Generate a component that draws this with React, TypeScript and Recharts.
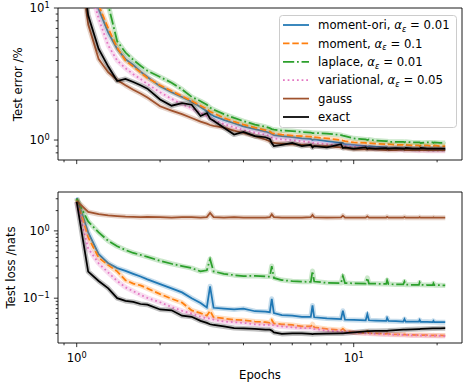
import { LineChart, Line, XAxis, YAxis, Legend, ReferenceArea } from "recharts";

const FONT = "DejaVu Sans";

// epochs shared by both panels (log x axis)
const epochs = [
  1, 1.1, 1.2, 1.3, 1.4, 1.5, 1.6, 1.7, 1.8, 2.0, 2.2, 2.4, 2.6, 2.8, 2.95, 3.03, 3.12, 3.4, 3.7, 4.0,
  4.4, 4.8, 4.98, 5.06, 5.15, 5.5, 6.0, 6.5, 7.0, 7.1, 7.2, 8.0, 9.0, 9.14, 9.3, 10, 11.05, 11.2, 11.35,
  12, 13.1, 13.2, 13.35, 14.2, 15.1, 15.25, 15.4, 16.3, 17.2, 17.3, 17.45, 18.4, 19.3, 19.4, 19.55, 20.5, 21.4,
];

// test error (%)
const errOri = [60, 20, 9.8, 6.5, 4.9, 4.1, 3.7, 3.3, 3.0, 2.55, 2.3, 2.12, 1.95, 1.78, 1.65, 1.58, 1.52, 1.42, 1.34, 1.27, 1.21, 1.16, 1.13, 1.11, 1.09, 1.07, 1.05, 1.03, 1.02, 1.0, 1.01, 0.98, 0.95, 0.95, 0.93, 0.92, 0.9, 0.89, 0.9, 0.89, 0.88, 0.88, 0.87, 0.87, 0.87, 0.86, 0.87, 0.86, 0.86, 0.86, 0.87, 0.86, 0.86, 0.85, 0.86, 0.86, 0.85];
const errMoment = [60, 22, 10.5, 7.0, 5.0, 4.0, 3.6, 3.25, 2.95, 2.6, 2.35, 2.15, 1.98, 1.82, 1.72, 1.64, 1.6, 1.47, 1.38, 1.31, 1.24, 1.19, 1.16, 1.13, 1.12, 1.1, 1.08, 1.07, 1.06, 1.04, 1.05, 1.03, 1.0, 0.99, 0.98, 0.96, 0.95, 0.94, 0.95, 0.94, 0.93, 0.92, 0.93, 0.92, 0.92, 0.91, 0.92, 0.91, 0.91, 0.9, 0.91, 0.91, 0.9, 0.9, 0.91, 0.9, 0.9];
const errLaplace = [80, 30, 15, 10.5, 5.6, 4.6, 4.05, 3.65, 3.35, 3.0, 2.72, 2.42, 2.12, 1.97, 1.85, 1.76, 1.7, 1.57, 1.47, 1.39, 1.31, 1.26, 1.23, 1.21, 1.2, 1.18, 1.17, 1.15, 1.14, 1.13, 1.13, 1.12, 1.09, 1.08, 1.07, 1.03, 1.01, 1.0, 1.01, 0.99, 0.98, 0.98, 0.97, 0.97, 0.97, 0.96, 0.97, 0.96, 0.96, 0.96, 0.95, 0.96, 0.96, 0.95, 0.96, 0.95, 0.95];
const errVariational = [50, 16, 8.3, 5.2, 4.0, 3.5, 3.15, 2.9, 2.65, 2.3, 2.05, 1.87, 1.74, 1.6, 1.52, 1.46, 1.41, 1.32, 1.25, 1.19, 1.14, 1.1, 1.07, 1.05, 1.03, 1.01, 1.0, 0.98, 0.96, 0.95, 0.95, 0.93, 0.91, 0.9, 0.9, 0.89, 0.88, 0.87, 0.87, 0.86, 0.86, 0.85, 0.85, 0.85, 0.84, 0.84, 0.84, 0.84, 0.83, 0.83, 0.84, 0.83, 0.83, 0.83, 0.83, 0.83, 0.83];
const errGauss = [35, 7.5, 4.1, 3.25, 2.85, 2.6, 2.4, 2.25, 2.1, 1.8, 1.67, 1.57, 1.47, 1.38, 1.33, 1.3, 1.28, 1.24, 1.18, 1.13, 1.07, 1.01, 0.98, 0.96, 0.95, 0.94, 0.93, 0.92, 0.91, 0.9, 0.9, 0.9, 0.88, 0.88, 0.87, 0.85, 0.85, 0.85, 0.85, 0.85, 0.84, 0.85, 0.84, 0.84, 0.85, 0.84, 0.84, 0.84, 0.84, 0.84, 0.84, 0.84, 0.84, 0.84, 0.84, 0.84, 0.84];
const errExact = [40, 8.8, 4.9, 3.6, 2.8, 2.9, 2.75, 2.6, 2.45, 2.03, 1.82, 1.9, 1.85, 1.52, 1.6, 1.45, 1.4, 1.24, 1.1, 1.15, 1.07, 1.05, 1.02, 0.95, 0.9, 0.92, 0.95, 0.9, 0.92, 0.88, 0.9, 0.88, 0.93, 0.87, 0.88, 0.86, 0.88, 0.86, 0.87, 0.86, 0.87, 0.86, 0.86, 0.87, 0.86, 0.86, 0.87, 0.86, 0.86, 0.86, 0.87, 0.86, 0.86, 0.86, 0.86, 0.86, 0.86];

// test loss (nats)
const lossOri = [3.1, 0.95, 0.45, 0.33, 0.28, 0.255, 0.23, 0.21, 0.19, 0.162, 0.14, 0.122, 0.1, 0.085, 0.073, 0.15, 0.072, 0.07, 0.068, 0.07, 0.064, 0.063, 0.062, 0.098, 0.06, 0.056, 0.055, 0.053, 0.053, 0.078, 0.052, 0.05, 0.049, 0.065, 0.048, 0.0475, 0.047, 0.058, 0.047, 0.0465, 0.046, 0.051, 0.046, 0.0455, 0.045, 0.049, 0.045, 0.045, 0.0448, 0.0475, 0.0446, 0.0445, 0.0443, 0.046, 0.0442, 0.0441, 0.044];
const lossMoment = [3.0, 0.8, 0.4, 0.31, 0.25, 0.185, 0.165, 0.155, 0.14, 0.115, 0.098, 0.086, 0.066, 0.06, 0.055, 0.065, 0.052, 0.05, 0.048, 0.047, 0.045, 0.044, 0.043, 0.0475, 0.042, 0.041, 0.04, 0.038, 0.038, 0.041, 0.037, 0.035, 0.0335, 0.035, 0.033, 0.031, 0.0305, 0.032, 0.0303, 0.03, 0.0295, 0.03, 0.0294, 0.029, 0.0288, 0.029, 0.0287, 0.0285, 0.0283, 0.0285, 0.0283, 0.0282, 0.028, 0.0281, 0.028, 0.028, 0.0279];
const lossLaplace = [3.0, 1.38, 0.95, 0.71, 0.59, 0.52, 0.47, 0.44, 0.41, 0.36, 0.325, 0.3, 0.28, 0.25, 0.26, 0.38, 0.25, 0.23, 0.22, 0.213, 0.215, 0.21, 0.21, 0.3, 0.2, 0.186, 0.179, 0.176, 0.175, 0.253, 0.177, 0.169, 0.168, 0.213, 0.168, 0.166, 0.165, 0.2, 0.165, 0.164, 0.163, 0.185, 0.162, 0.16, 0.16, 0.176, 0.159, 0.158, 0.158, 0.171, 0.158, 0.157, 0.157, 0.166, 0.156, 0.156, 0.155];
const lossVariational = [2.7, 0.55, 0.33, 0.24, 0.18, 0.145, 0.127, 0.112, 0.101, 0.087, 0.074, 0.065, 0.059, 0.053, 0.05, 0.05, 0.048, 0.045, 0.044, 0.043, 0.041, 0.04, 0.04, 0.041, 0.039, 0.038, 0.037, 0.036, 0.036, 0.036, 0.035, 0.033, 0.032, 0.032, 0.0315, 0.031, 0.03, 0.03, 0.0298, 0.0295, 0.029, 0.029, 0.029, 0.0287, 0.0284, 0.0284, 0.0283, 0.028, 0.0279, 0.0279, 0.0278, 0.0277, 0.0276, 0.0276, 0.0276, 0.0275, 0.0274];
const lossGauss = [2.8, 1.91, 1.77, 1.7, 1.66, 1.63, 1.62, 1.6, 1.62, 1.6, 1.58, 1.6, 1.6, 1.58, 1.6, 1.85, 1.6, 1.58, 1.6, 1.58, 1.58, 1.58, 1.6, 1.76, 1.6, 1.58, 1.58, 1.58, 1.6, 1.72, 1.59, 1.57, 1.58, 1.68, 1.57, 1.57, 1.57, 1.64, 1.57, 1.57, 1.57, 1.62, 1.57, 1.57, 1.57, 1.61, 1.57, 1.57, 1.57, 1.6, 1.57, 1.57, 1.57, 1.59, 1.57, 1.57, 1.57];
const lossExact = [2.7, 0.248, 0.18, 0.14, 0.1, 0.091, 0.088, 0.082, 0.08, 0.068, 0.066, 0.055, 0.053, 0.046, 0.043, 0.041, 0.04, 0.038, 0.036, 0.0355, 0.035, 0.034, 0.034, 0.033, 0.031, 0.0295, 0.03, 0.03, 0.0295, 0.0292, 0.0295, 0.0298, 0.03, 0.03, 0.0302, 0.031, 0.0322, 0.0324, 0.0325, 0.0326, 0.0328, 0.0328, 0.033, 0.0335, 0.034, 0.034, 0.0342, 0.0345, 0.0348, 0.0348, 0.0349, 0.0352, 0.0355, 0.0355, 0.0356, 0.0357, 0.0358];

const xTicks = [0.9, 1, 2, 3, 4, 5, 6, 7, 8, 9, 10, 20];
const errTicks = [0.8, 0.9, 1, 2, 3, 4, 5, 6, 7, 8, 9, 10];
const lossTicks = [0.03, 0.04, 0.05, 0.06, 0.07, 0.08, 0.09, 0.1, 0.2, 0.3, 0.4, 0.5, 0.6, 0.7, 0.8, 0.9, 1, 2, 3];

const X_DOMAIN = [0.856, 24.6];
const ERR_DOMAIN = [0.706, 10];
const LOSS_DOMAIN = [0.0216, 3.78];

const series = [
  { key: "ori", label: "moment-ori", alpha: "0.01", color: "#1f77b4", dash: undefined },
  { key: "moment", label: "moment", alpha: "0.1", color: "#ff7f0e", dash: "6.5 2.8" },
  { key: "laplace", label: "laplace", alpha: "0.01", color: "#2ca02c", dash: "11.2 2.8 1.75 2.8" },
  { key: "variational", label: "variational", alpha: "0.05", color: "#e377c2", dash: "1.75 2.9" },
  { key: "gauss", label: "gauss", alpha: null, color: "#a0522d", dash: undefined },
  { key: "exact", label: "exact", alpha: null, color: "#000000", dash: undefined },
];

const errRows = epochs.map((epoch, i) => ({
  epoch,
  ori: errOri[i],
  moment: errMoment[i],
  laplace: errLaplace[i],
  variational: errVariational[i],
  gauss: errGauss[i],
  exact: errExact[i],
}));

const lossRows = epochs.map((epoch, i) => ({
  epoch,
  ori: lossOri[i],
  moment: lossMoment[i],
  laplace: lossLaplace[i],
  variational: lossVariational[i],
  gauss: lossGauss[i],
  exact: lossExact[i],
}));

function isMajor(v: number) {
  const l = Math.log10(v);
  return Math.abs(l - Math.round(l)) < 1e-9;
}

function expText(v: number) {
  const e = Math.round(Math.log10(v));
  return e < 0 ? "\u2212" + Math.abs(e) : String(e);
}

function XTick(props: any) {
  const { x, y, payload, showLabel } = props;
  const major = isMajor(payload.value);
  return (
    <g>
      <line x1={x} x2={x} y1={y} y2={y + (major ? 4.1 : 2.3)} stroke="#000" strokeWidth={0.8} />
      {major && showLabel && (
        <text x={x} y={y + 19} textAnchor="middle" fontSize={11.7} fontFamily={FONT} fill="#000">
          10
          <tspan dy={-4.4} fontSize={8.2}>{expText(payload.value)}</tspan>
        </text>
      )}
    </g>
  );
}

function YTick(props: any) {
  const { x, y, payload } = props;
  const major = isMajor(payload.value);
  return (
    <g>
      <line x1={x} x2={x - (major ? 4.1 : 2.3)} y1={y} y2={y} stroke="#000" strokeWidth={0.8} />
      {major && (
        <text x={x - 8.4} y={y + 4.3} textAnchor="end" fontSize={11.7} fontFamily={FONT} fill="#000">
          10
          <tspan dy={-4.4} fontSize={8.2}>{expText(payload.value)}</tspan>
        </text>
      )}
    </g>
  );
}

// axis title drawn at a fixed spot (tx, ty) in chart coordinates
function AxisTitle({ text, tx, ty, rotate }: any) {
  return (
    <text
      x={tx}
      y={ty}
      textAnchor="middle"
      fontSize={11.7}
      fontFamily={FONT}
      fill="#000"
      transform={rotate ? `rotate(-90, ${tx}, ${ty})` : undefined}
    >
      {text}
    </text>
  );
}

function LegendBox() {
  const rowY = [10, 28.4, 46.8, 65.2, 83.6, 102];
  return (
    <svg width={178} height={113} style={{ display: "block" }}>
      <rect x={0.5} y={0.5} width={177} height={112} rx={3} fill="#fff" fillOpacity={0.8} stroke="#cccccc" />
      {series.map((s, i) => (
        <g key={s.key}>
          <line x1={4} x2={30} y1={rowY[i]} y2={rowY[i]} stroke={s.color} strokeWidth={1.75} strokeDasharray={s.dash} />
          <text x={39} y={rowY[i] + 4.2} fontSize={11.7} fontFamily={FONT} fill="#000">
            {s.label}
            {s.alpha && (
              <>
                {", "}
                <tspan fontStyle="italic">α</tspan>
                <tspan fontStyle="italic" fontSize={8.2} dy={2.6}>ε</tspan>
                <tspan dy={-2.6}>{" = " + s.alpha}</tspan>
              </>
            )}
          </text>
        </g>
      ))}
    </svg>
  );
}

function seriesLines() {
  const out: any[] = [];
  series.forEach((s) => {
    out.push(
      <Line
        key={s.key + "-band"}
        dataKey={s.key}
        stroke={s.color}
        strokeOpacity={0.25}
        strokeWidth={5}
        strokeLinejoin="round"
        dot={false}
        activeDot={false}
        legendType="none"
        isAnimationActive={false}
      />
    );
    out.push(
      <Line
        key={s.key}
        dataKey={s.key}
        stroke={s.color}
        strokeWidth={1.75}
        strokeDasharray={s.dash}
        dot={false}
        activeDot={false}
        isAnimationActive={false}
      />
    );
  });
  return out;
}

export default function App() {
  return (
    <div style={{ position: "absolute", left: 0, top: 0, width: 467, height: 386, background: "#fff" }}>
      {/* top: test error */}
      <div style={{ position: "absolute", left: 0, top: 0 }}>
        <LineChart width={467} height={175} data={errRows} margin={{ top: 8, right: 5, bottom: 0, left: 0 }}>
          <XAxis
            dataKey="epoch"
            type="number"
            scale="log"
            domain={X_DOMAIN}
            allowDataOverflow
            ticks={xTicks}
            interval={0}
            height={15}
            tickSize={0}
            tickMargin={0}
            axisLine={false}
            tickLine={false}
            tick={(p: any) => <XTick {...p} showLabel={false} />}
          />
          <YAxis
            type="number"
            scale="log"
            domain={ERR_DOMAIN}
            allowDataOverflow
            ticks={errTicks}
            interval={0}
            width={58}
            tickSize={0}
            tickMargin={0}
            axisLine={false}
            tickLine={false}
            tick={(p: any) => <YTick {...p} />}
            label={<AxisTitle text="Test error /%" tx={22} ty={84.3} rotate />}
          />
          {seriesLines()}
          <ReferenceArea
            x1={X_DOMAIN[0]}
            x2={X_DOMAIN[1]}
            y1={ERR_DOMAIN[0]}
            y2={ERR_DOMAIN[1]}
            fill="none"
            stroke="#000"
            strokeWidth={0.9}
          />
          <Legend
            layout="vertical"
            align="center"
            verticalAlign="middle"
            wrapperStyle={{ left: 279, top: 15, width: 178, height: 113 }}
            content={() => <LegendBox />}
          />
        </LineChart>
      </div>

      {/* bottom: test loss */}
      <div style={{ position: "absolute", left: 0, top: 175 }}>
        <LineChart width={467} height={211} data={lossRows} margin={{ top: 17, right: 5, bottom: 0, left: 0 }}>
          <XAxis
            dataKey="epoch"
            type="number"
            scale="log"
            domain={X_DOMAIN}
            allowDataOverflow
            ticks={xTicks}
            interval={0}
            height={43}
            tickSize={0}
            tickMargin={0}
            axisLine={false}
            tickLine={false}
            tick={(p: any) => <XTick {...p} showLabel />}
            label={<AxisTitle text="Epochs" tx={260} ty={203.5} />}
          />
          <YAxis
            type="number"
            scale="log"
            domain={LOSS_DOMAIN}
            allowDataOverflow
            ticks={lossTicks}
            interval={0}
            width={58}
            tickSize={0}
            tickMargin={0}
            axisLine={false}
            tickLine={false}
            tick={(p: any) => <YTick {...p} />}
            label={<AxisTitle text="Test loss /nats" tx={15} ty={92.5} rotate />}
          />
          {seriesLines()}
          <ReferenceArea
            x1={X_DOMAIN[0]}
            x2={X_DOMAIN[1]}
            y1={LOSS_DOMAIN[0]}
            y2={LOSS_DOMAIN[1]}
            fill="none"
            stroke="#000"
            strokeWidth={0.9}
          />
        </LineChart>
      </div>
    </div>
  );
}
